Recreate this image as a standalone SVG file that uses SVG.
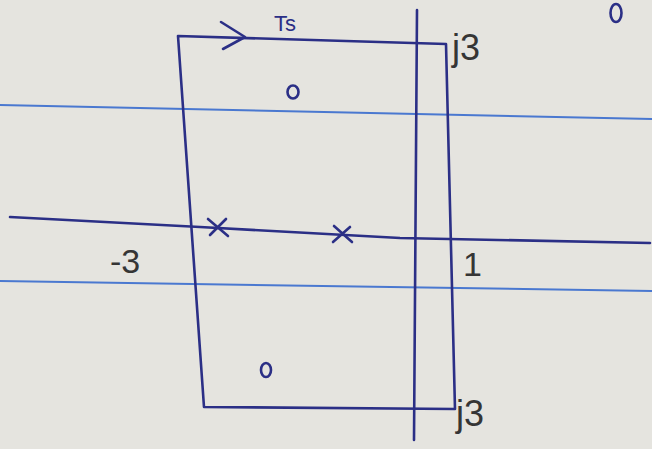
<svg xmlns="http://www.w3.org/2000/svg" width="652" height="449" viewBox="0 0 652 449">
<style>
.ink{fill:none;stroke:#2b2f86;stroke-width:2.6;stroke-linecap:round;stroke-linejoin:round}
.rule{fill:none;stroke:#4a78d0;stroke-width:2}
.pen{font-family:"Liberation Sans",Arial,sans-serif;fill:#2b2f86}
.pencil{font-family:"Liberation Sans",Arial,sans-serif;fill:#353535}
</style>
<rect width="652" height="449" fill="#e5e4df"/>
<g id="paper-rules">
<path class="rule" d="M0 105 L652 119"/>
<path class="rule" d="M0 281 L652 291"/>
</g>
<g id="axes">
<path class="ink" d="M10 217 L200 227 L400 238 L650 243"/>
<path class="ink" d="M417 10 L414 440"/>
</g>
<g id="contour">
<path class="ink" d="M178 36 L446 44 L455 409 L204 407 Z"/>
<path class="ink" d="M221 22 L245 37 L223 49"/>
</g>
<g id="poles">
<path class="ink" d="M208 219 L228 236 M226 219 L210 235"/>
<path class="ink" d="M334 226 L352 242 M350 227 L333 242"/>
</g>
<g id="zeros">
<ellipse class="ink" cx="293" cy="92" rx="5.5" ry="6.5"/>
<ellipse class="ink" cx="266" cy="370" rx="5" ry="7"/>
<ellipse class="ink" cx="616" cy="13" rx="5.5" ry="9"/>
</g>
<g id="labels">
<text class="pen" x="274" y="31" font-size="22">Ts</text>
<text class="pencil" x="452" y="60" font-size="36">j3</text>
<text class="pencil" x="110" y="273" font-size="34">-3</text>
<text class="pencil" x="463" y="276" font-size="34">1</text>
<text class="pencil" x="456" y="426" font-size="36">j3</text>
</g>
</svg>
